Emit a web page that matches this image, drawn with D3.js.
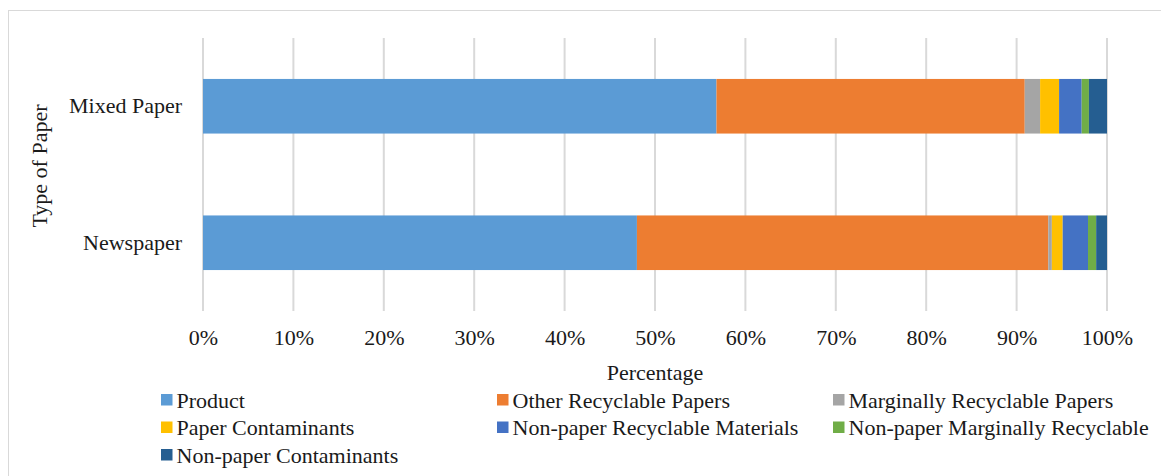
<!DOCTYPE html>
<html>
<head>
<meta charset="utf-8">
<script src="https://cdn.jsdelivr.net/npm/d3@7"></script>
<style>
  html, body { margin: 0; padding: 0; background: #fff; }
  svg { display: block; }
</style>
</head>
<body>
<svg id="chart" width="1161" height="476"></svg>
<script>
// Paper types (top to bottom)
const categories = ["Mixed Paper", "Newspaper"];

// Composition series, percent of each paper type
const seriesNames = [
  "Product",
  "Other Recyclable Papers",
  "Marginally Recyclable Papers",
  "Paper Contaminants",
  "Non-paper Recyclable Materials",
  "Non-paper Marginally Recyclable",
  "Non-paper Contaminants"
];
const mixedPaper = [56.8, 34.1, 1.7, 2.1, 2.5, 0.8, 2.0];
const newspaper  = [48.0, 45.5, 0.4, 1.2, 2.8, 0.9, 1.2];

const seriesColors = ["#5B9BD5", "#ED7D31", "#A5A5A5", "#FFC000", "#4472C4", "#70AD47", "#255E91"];
const xTicks = [0, 10, 20, 30, 40, 50, 60, 70, 80, 90, 100];

const FONT = "'Liberation Serif', 'Times New Roman', serif";
const FONT_SIZE = 22;
const TEXT_COLOR = "#1a1a1a";

const rows = [
  { name: categories[0], values: mixedPaper },
  { name: categories[1], values: newspaper }
];

const svg = d3.select("#chart");

// chart frame
svg.append("rect")
  .attr("x", 8.5).attr("y", 10.5)
  .attr("width", 1170).attr("height", 480)
  .attr("fill", "#fff").attr("stroke", "#d9d9d9").attr("stroke-width", 1);

const plot = { left: 203, right: 1107, top: 38, bottom: 311 };

const x = d3.scaleLinear().domain([0, 100]).range([plot.left, plot.right]);
const y = d3.scaleBand().domain(categories).range([plot.top, plot.bottom]).paddingInner(0.6).paddingOuter(0.3);

// vertical gridlines
svg.append("g")
  .selectAll("line")
  .data(xTicks)
  .join("line")
  .attr("x1", d => x(d)).attr("x2", d => x(d))
  .attr("y1", plot.top).attr("y2", plot.bottom)
  .attr("stroke", "#d9d9d9").attr("stroke-width", 2);

// stacked segments
const stack = rows.map(r => {
  let acc = 0;
  return r.values.map((v, i) => {
    const seg = { cat: r.name, i, x0: acc, x1: acc + v };
    acc += v;
    return seg;
  });
}).flat();

svg.append("g")
  .selectAll("rect")
  .data(stack)
  .join("rect")
  .attr("x", d => x(d.x0))
  .attr("width", d => x(d.x1) - x(d.x0))
  .attr("y", d => y(d.cat))
  .attr("height", y.bandwidth())
  .attr("fill", d => seriesColors[d.i]);

// x axis tick labels
const xAxis = d3.axisBottom(x).tickValues(xTicks).tickFormat(d => d + "%").tickSize(0).tickPadding(0);
const gx = svg.append("g").attr("transform", `translate(0, ${plot.bottom})`).call(xAxis);
gx.select(".domain").remove();
gx.selectAll("text")
  .attr("dy", null).attr("y", 34)
  .style("font-family", FONT)
  .style("font-size", FONT_SIZE + "px")
  .attr("fill", TEXT_COLOR);

// y axis category labels
const yAxis = d3.axisLeft(y).tickSize(0).tickPadding(21);
const gy = svg.append("g").attr("transform", `translate(${plot.left}, 0)`).call(yAxis);
gy.select(".domain").remove();
gy.selectAll("text")
  .style("font-family", FONT)
  .style("font-size", FONT_SIZE + "px")
  .attr("fill", TEXT_COLOR);

// axis titles
svg.append("text")
  .attr("x", (plot.left + plot.right) / 2).attr("y", 380)
  .attr("text-anchor", "middle")
  .style("font-family", FONT).style("font-size", FONT_SIZE + "px")
  .attr("fill", TEXT_COLOR)
  .text("Percentage");

svg.append("text")
  .attr("transform", "translate(47, 166) rotate(-90)")
  .attr("text-anchor", "middle")
  .style("font-family", FONT).style("font-size", FONT_SIZE + "px")
  .attr("fill", TEXT_COLOR)
  .text("Type of Paper");

// legend: three columns
const legendCols = [161, 497, 833];
const legendRows = [400, 427.5, 455];
const legend = svg.append("g")
  .selectAll("g")
  .data(seriesNames)
  .join("g")
  .attr("transform", (d, i) => `translate(${legendCols[i % 3]}, ${legendRows[Math.floor(i / 3)]})`);

legend.append("rect")
  .attr("x", 0).attr("y", -6).attr("width", 11.5).attr("height", 11.5)
  .attr("fill", (d, i) => seriesColors[i]);

legend.append("text")
  .attr("x", 15.5).attr("y", 0).attr("dy", "0.35em")
  .style("font-family", FONT).style("font-size", FONT_SIZE + "px")
  .attr("fill", TEXT_COLOR)
  .text(d => d);
</script>
</body>
</html>
